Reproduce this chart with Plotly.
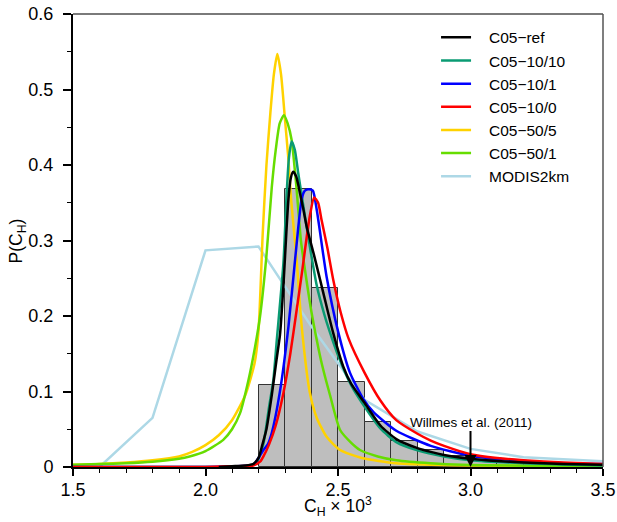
import plotly.graph_objects as go

# ---------------- data ----------------
bin_left = [2.2, 2.3, 2.4, 2.5, 2.6, 2.7, 2.8, 2.9, 3.0, 3.1, 3.2, 3.3, 3.4]
bin_height = [0.109, 0.368, 0.237, 0.112, 0.060, 0.034, 0.022, 0.014, 0.009, 0.006, 0.004, 0.003, 0.002]

ref_x = [2.05, 2.1, 2.15, 2.18, 2.2, 2.215, 2.23, 2.25, 2.268, 2.281, 2.294, 2.305, 2.313, 2.322, 2.331,
         2.342, 2.357, 2.37, 2.382, 2.41, 2.445, 2.48, 2.52, 2.55, 2.6, 2.66, 2.72, 2.8, 2.85, 2.9, 3.0,
         3.1, 3.2, 3.35, 3.5]
ref_y = [0.0, 0.001, 0.002, 0.004, 0.012, 0.03, 0.05, 0.095, 0.142, 0.175, 0.24, 0.31, 0.355, 0.383, 0.391,
         0.385, 0.362, 0.34, 0.318, 0.28, 0.23, 0.18, 0.133, 0.11, 0.085, 0.055, 0.037, 0.025, 0.02, 0.016, 0.011,
         0.008, 0.006, 0.004, 0.003]

t10_x = [1.5, 2.0, 2.1, 2.15, 2.19, 2.218, 2.24, 2.256, 2.269, 2.294, 2.306, 2.315, 2.325, 2.337, 2.35,
         2.365, 2.39, 2.42, 2.45, 2.47, 2.5, 2.55, 2.6, 2.66, 2.72, 2.8, 2.9, 3.0, 3.2, 3.5]
t10_y = [0.0, 0.0, 0.0, 0.001, 0.005, 0.03, 0.08, 0.115, 0.168, 0.27, 0.36, 0.41, 0.431, 0.42, 0.389,
         0.355, 0.3, 0.24, 0.2, 0.178, 0.148, 0.108, 0.08, 0.051, 0.033, 0.022, 0.014, 0.009, 0.005, 0.002]

b1_x = [1.5, 2.0, 2.1, 2.18, 2.2, 2.218, 2.235, 2.25, 2.28, 2.313, 2.344, 2.363, 2.375, 2.39, 2.405,
        2.42, 2.457, 2.5, 2.545, 2.596, 2.633, 2.72, 2.85, 3.0, 3.2, 3.35, 3.5]
b1_y = [0.0, 0.0, 0.001, 0.003, 0.012, 0.022, 0.03, 0.045, 0.098, 0.186, 0.296, 0.355, 0.366, 0.368, 0.366,
        0.34, 0.252, 0.18, 0.125, 0.09, 0.073, 0.048, 0.028, 0.015, 0.008, 0.005, 0.004]

r0_x = [1.5, 2.0, 2.1, 2.18, 2.206, 2.22, 2.24, 2.265, 2.294, 2.32, 2.344, 2.365, 2.382, 2.395, 2.41,
        2.425, 2.438, 2.46, 2.482, 2.51, 2.54, 2.6, 2.66, 2.72, 2.8, 2.85, 2.9, 3.0, 3.1, 3.2, 3.35, 3.5]
r0_y = [0.0, 0.0, 0.001, 0.002, 0.007, 0.015, 0.03, 0.055, 0.098, 0.15, 0.208, 0.26, 0.305, 0.335, 0.357,
        0.35, 0.327, 0.29, 0.248, 0.205, 0.17, 0.125, 0.088, 0.062, 0.044, 0.035, 0.028, 0.017, 0.012, 0.009,
        0.006, 0.004]

y5_x = [1.5, 1.6, 1.7, 1.8, 1.9, 1.95, 2.0, 2.05, 2.1, 2.15, 2.185, 2.2, 2.216, 2.23, 2.245, 2.258, 2.271,
        2.285, 2.3, 2.313, 2.323, 2.344, 2.363, 2.394, 2.42, 2.457, 2.508, 2.59, 2.72, 2.85, 3.0, 3.5]
y5_y = [0.003, 0.004, 0.006, 0.009, 0.014, 0.02, 0.029, 0.042, 0.062, 0.095, 0.137, 0.18, 0.31, 0.4, 0.47,
        0.52, 0.547, 0.52, 0.46, 0.407, 0.354, 0.274, 0.186, 0.098, 0.065, 0.04, 0.0225, 0.012, 0.005, 0.003,
        0.002, 0.001]

g1_x = [1.5, 1.6, 1.7, 1.8, 1.9, 1.94, 2.0, 2.067, 2.1, 2.13, 2.162, 2.187, 2.206, 2.23, 2.25, 2.265, 2.28,
        2.296, 2.31, 2.325, 2.344, 2.36, 2.38, 2.4, 2.42, 2.44, 2.47, 2.508, 2.55, 2.583, 2.65, 2.72, 2.85,
        2.97, 3.5]
g1_y = [0.003, 0.004, 0.005, 0.007, 0.011, 0.014, 0.021, 0.036, 0.05, 0.071, 0.115, 0.159, 0.2, 0.28, 0.37,
        0.42, 0.455, 0.466, 0.455, 0.433, 0.367, 0.3, 0.25, 0.205, 0.168, 0.135, 0.095, 0.049, 0.032, 0.0225,
        0.014, 0.009, 0.005, 0.003, 0.001]

modis_x = [1.6, 1.8, 2.0, 2.2, 2.4, 2.6, 2.8, 3.0, 3.2, 3.4, 3.6]
modis_y = [0.0, 0.065, 0.287, 0.292, 0.186, 0.089, 0.047, 0.024, 0.013, 0.009, 0.006]

x_tick_vals = [1.5, 2.0, 2.5, 3.0, 3.5]
x_tick_text = ["1.5", "2.0", "2.5", "3.0", "3.5"]
y_tick_vals = [0, 0.1, 0.2, 0.3, 0.4, 0.5, 0.6]
y_tick_text = ["0", "0.1", "0.2", "0.3", "0.4", "0.5", "0.6"]

FONT = "Arial, Liberation Sans, sans-serif"
PAD = "\u00a0\u00a0\u00a0"

fig = go.Figure()

fig.add_trace(go.Bar(
    x=[b + 0.05 for b in bin_left], y=bin_height, width=0.1,
    marker=dict(color="#BEBEBE", line=dict(color="#333333", width=1)),
    showlegend=False, hoverinfo="skip"))

series = [
    ("MODIS2km", modis_x, modis_y, "#ADD8E6", 7),
    ("C05\u221250/5", y5_x, y5_y, "#FFD200", 5),
    ("C05\u221250/1", g1_x, g1_y, "#66DD00", 6),
    ("C05\u221210/10", t10_x, t10_y, "#0A9B73", 2),
    ("C05\u221210/1", b1_x, b1_y, "#0000FF", 3),
    ("C05\u221210/0", r0_x, r0_y, "#FF0000", 4),
    ("C05\u2212ref", ref_x, ref_y, "#000000", 1),
]
for name, xs, ys, col, rank in series:
    shape = "linear" if name == "MODIS2km" else "spline"
    fig.add_trace(go.Scatter(
        x=xs, y=ys, mode="lines", name=PAD + name, legendrank=rank,
        line=dict(color=col, width=2.5, shape=shape, smoothing=0.6)))

# frame lines (top/right in gray)
fig.add_shape(type="line", xref="paper", yref="paper", x0=0, x1=1, y0=1, y1=1,
              line=dict(color="#7A7A7A", width=2))
fig.add_shape(type="line", xref="paper", yref="paper", x0=1, x1=1, y0=0, y1=1,
              line=dict(color="#555555", width=1.5))

fig.add_annotation(x=3.0, y=0.0, xref="x", yref="y", text="Willmes et al. (2011)",
                   showarrow=True, ax=0, ay=-45, arrowhead=2, arrowsize=1.2, arrowwidth=2,
                   arrowcolor="black", standoff=0,
                   font=dict(family=FONT, size=13.5, color="black"))

# axis titles
fig.add_annotation(x=2.5, xref="x", y=-0.088, yref="paper", yanchor="middle", xanchor="center",
                   text="C<sub>H</sub> \u00d7 10<sup>3</sup>", showarrow=False,
                   font=dict(family=FONT, size=17.5, color="black"))
fig.add_annotation(x=-0.104, xref="paper", y=0.30, yref="y", textangle=-90,
                   xanchor="center", yanchor="middle",
                   text="P(C<sub>H</sub>)", showarrow=False,
                   font=dict(family=FONT, size=17.5, color="black"))

fig.update_layout(
    width=617, height=522,
    margin=dict(l=73, r=14, t=14, b=55, autoexpand=False),
    paper_bgcolor="white", plot_bgcolor="white",
    font=dict(family=FONT, size=18, color="black"),
    bargap=0,
    legend=dict(x=0.685, y=0.985, xanchor="left", yanchor="top",
                bgcolor="rgba(0,0,0,0)", font=dict(size=15.5), tracegroupgap=0),
    xaxis=dict(range=[1.5, 3.5], showline=True, linecolor="black", linewidth=2, automargin=False,
               ticks="outside", ticklen=7, tickwidth=1.5, tickcolor="black",
               tickvals=x_tick_vals, ticktext=x_tick_text, ticklabelstandoff=-2,
               ticklabeloverflow="allow",
               minor=dict(ticks="outside", dtick=0.1, ticklen=4, tickwidth=1.2, tickcolor="black"),
               showgrid=False, zeroline=False),
    yaxis=dict(range=[0, 0.6], showline=True, linecolor="black", linewidth=2, automargin=False,
               ticks="outside", ticklen=8, tickwidth=1.5, tickcolor="black",
               tickvals=y_tick_vals, ticktext=y_tick_text, ticklabelstandoff=6,
               ticklabeloverflow="allow",
               minor=dict(ticks="outside", dtick=0.05, ticklen=4, tickwidth=1.2, tickcolor="black"),
               showgrid=False, zeroline=False),
)

fig.write_html("out.html", config={"displayModeBar": False},
               post_script="document.body.style.margin='0';document.body.style.overflow='hidden';")
